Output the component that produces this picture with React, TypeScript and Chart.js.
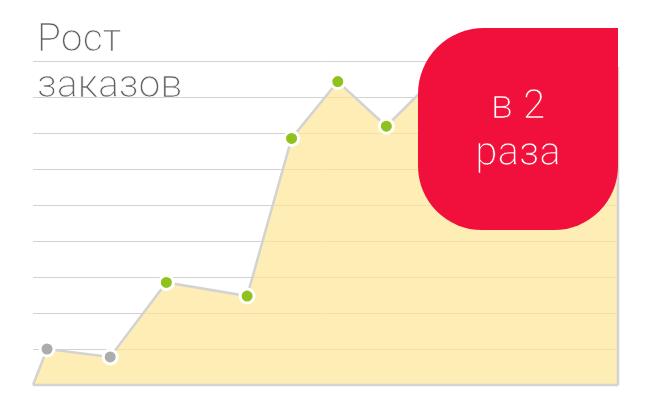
import { useEffect, useRef } from 'react';
import Chart from 'chart.js/auto';

// x position of each vertex (0..100 across the plot) and order growth value
const xValues = [0, 2.4, 13.2, 22.8, 36.6, 44.2, 52.1, 60.4, 69.6, 84, 100, 100];
const orderValues = [0, 1.0, 0.78, 2.85, 2.47, 6.85, 8.43, 7.19, 8.67, 8.3, 8.8, 0];
// marker kind per vertex: '' = no marker, 'old' = grey, 'new' = green
const markerKinds = ['', 'old', 'old', 'new', 'new', 'new', 'new', 'new', 'new', 'new', '', ''];
// bottom edge of the shaded shape
const baseX = [0, 100];
const baseY = [0, 0];

const titleLines = ['Рост', 'заказов'];
const badgeLines = ['в 2', 'раза'];

const FONT = '"Roboto Light", Roboto, "Noto Sans", sans-serif';

const App = () => {
  const chartRef = useRef<HTMLCanvasElement | null>(null);
  const chartInstance = useRef<Chart<'line', { x: number; y: number }[]> | null>(null);

  useEffect(() => {
    if (!chartRef.current) return;
    const ctx = chartRef.current.getContext('2d');
    if (!ctx) return;

    if (chartInstance.current) chartInstance.current.destroy();

    const points = xValues.map((x, i) => ({ x, y: orderValues[i] }));
    const basePoints = baseX.map((x, i) => ({ x, y: baseY[i] }));

    chartInstance.current = new Chart(ctx, {
      type: 'line',
      data: {
        datasets: [
          {
            data: basePoints,
            borderColor: '#d3d3d3',
            borderWidth: 2.5,
            fill: false,
            pointRadius: 0,
            clip: false,
            order: 0,
          },
          {
            data: points,
            borderColor: '#d3d3d3',
            borderWidth: 2.5,
            backgroundColor: 'rgba(253, 230, 150, 0.7)',
            fill: 'origin',
            tension: 0,
            clip: false,
            order: 1,
            pointRadius: markerKinds.map((k) => (k ? 7 : 0)),
            pointHoverRadius: markerKinds.map((k) => (k ? 7 : 0)),
            pointBackgroundColor: markerKinds.map((k) => (k === 'old' ? '#acacac' : '#8fc21c')),
            pointBorderColor: '#ffffff',
            pointBorderWidth: 3,
          },
        ],
      },
      options: {
        animation: false,
        responsive: false,
        maintainAspectRatio: false,
        layout: { padding: { left: 33, top: 61, right: 38, bottom: 26 } },
        plugins: { legend: { display: false }, tooltip: { enabled: false } },
        scales: {
          x: { type: 'linear', min: 0, max: 100, display: false },
          y: {
            min: 0,
            max: 9,
            ticks: { display: false, stepSize: 1 },
            grid: { color: '#d2d2d2', lineWidth: 1, drawTicks: false },
            border: { display: false },
          },
        },
      },
    });

    return () => {
      if (chartInstance.current) {
        chartInstance.current.destroy();
        chartInstance.current = null;
      }
    };
  }, []);

  return (
    <div style={{ position: 'absolute', left: 0, top: 0, width: 656, height: 411, background: '#fff', overflow: 'hidden' }}>
      <canvas ref={chartRef} width={656} height={411} style={{ position: 'absolute', left: 0, top: 0, width: 656, height: 411 }} />
      <div
        style={{
          position: 'absolute',
          left: 37,
          top: 15,
          fontFamily: FONT,
          fontWeight: 300,
          fontSize: 39,
          lineHeight: '46px',
          color: '#5f5f5f',
          WebkitTextStroke: '0.7px #ffffff',
        }}
      >
        {titleLines.map((t) => (
          <div key={t}>{t}</div>
        ))}
      </div>
      <div
        style={{
          position: 'absolute',
          left: 418,
          top: 28,
          width: 200,
          height: 202,
          background: '#f0103b',
          borderRadius: '66px 0 64px 64px',
        }}
      >
        <div
          style={{
            position: 'absolute',
            left: 0,
            right: 0,
            top: 53,
            textAlign: 'center',
            fontFamily: FONT,
            fontWeight: 300,
            fontSize: 40,
            lineHeight: '47px',
            color: '#ffffff',
            WebkitTextStroke: '0.7px #f0103b',
          }}
        >
          {badgeLines.map((t) => (
            <div key={t}>{t}</div>
          ))}
        </div>
      </div>
    </div>
  );
};

export default App;
